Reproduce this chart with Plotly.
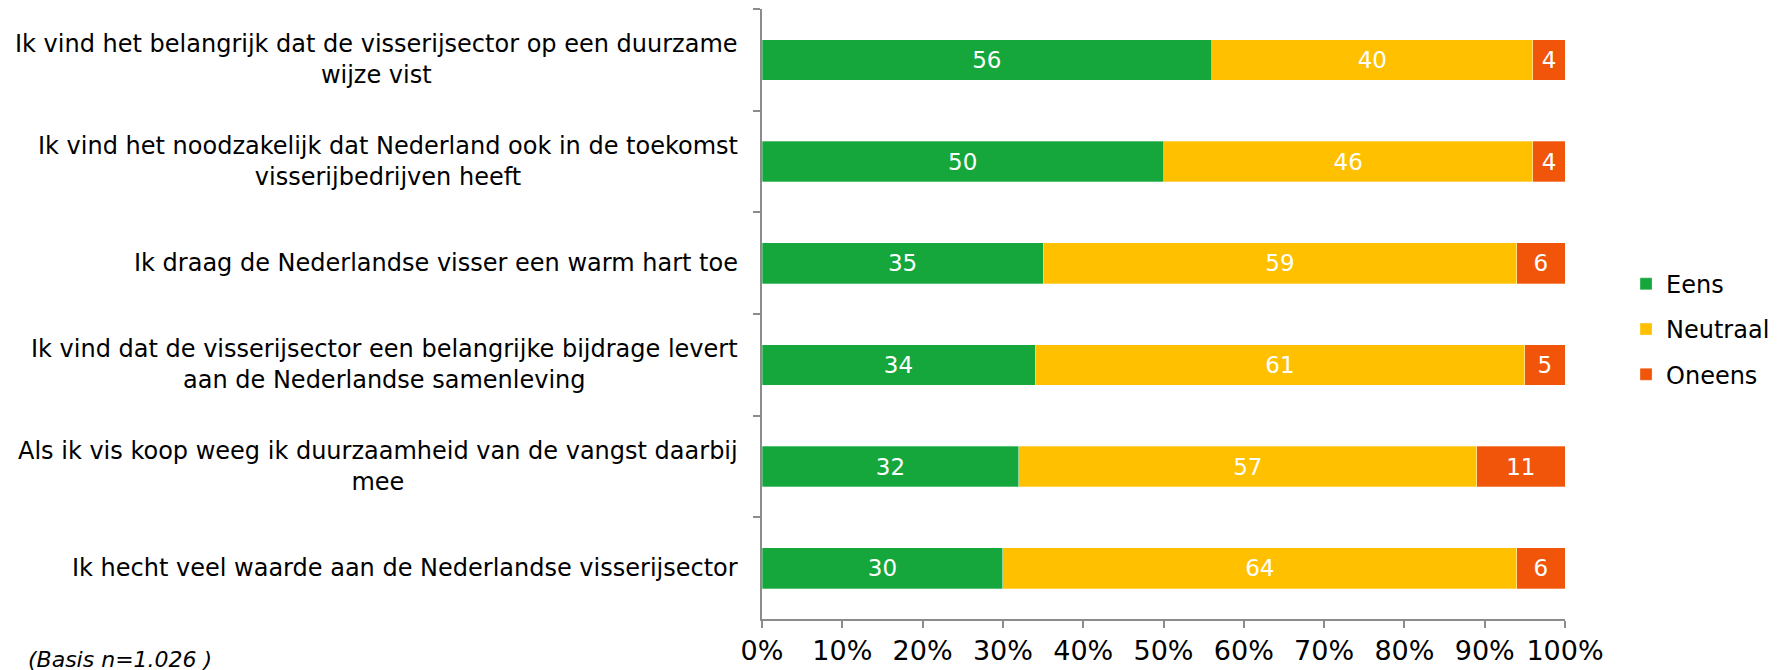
import plotly.graph_objects as go

categories = [
    "Ik vind het belangrijk dat de visserijsector op een duurzame<br>wijze vist",
    "Ik vind het noodzakelijk dat Nederland ook in de toekomst<br>visserijbedrijven heeft",
    "Ik draag de Nederlandse visser een warm hart toe",
    "Ik vind dat de visserijsector een belangrijke bijdrage levert<br>aan de Nederlandse samenleving",
    "Als ik vis koop weeg ik duurzaamheid van de vangst daarbij<br>mee",
    "Ik hecht veel waarde aan de Nederlandse visserijsector",
]
eens = [56, 50, 35, 34, 32, 30]
neutraal = [40, 46, 59, 61, 57, 64]
oneens = [4, 4, 6, 5, 11, 6]
series_names = ["Eens", "Neutraal", "Oneens"]
colors = ["#15A73B", "#FFC000", "#F0550A"]
tick_vals = [0, 10, 20, 30, 40, 50, 60, 70, 80, 90, 100]
tick_text = ["0%", "10%", "20%", "30%", "40%", "50%", "60%", "70%", "80%", "90%", "100%"]
note = "(Basis n=1.026 )"

FONT = "DejaVu Sans"
fig = go.Figure()
for name, vals, col in zip(series_names, [eens, neutraal, oneens], colors):
    fig.add_trace(go.Bar(
        y=categories, x=vals, name=name, orientation="h",
        marker=dict(color=col, line=dict(color="rgba(255,255,255,0.6)", width=0.5)),
        text=[str(v) for v in vals], textposition="inside", insidetextanchor="middle",
        textfont=dict(color="white", size=23, family=FONT),
        legendgroup=name, cliponaxis=False,
    ))

for c in categories:
    fig.add_annotation(x=0, xref="paper", xanchor="right", xshift=-22,
                       y=c, yref="y", text=c, showarrow=False, align="center",
                       font=dict(size=24, family=FONT, color="black"))

fig.add_annotation(x=-0.9165, xref="paper", xanchor="left", y=-0.0656, yref="paper",
                   yanchor="middle", text="<i>" + note + "</i>", showarrow=False,
                   font=dict(size=22, family=FONT, color="black"))

fig.update_layout(
    barmode="stack", bargap=0.6,
    width=1773, height=670,
    margin=dict(l=754, r=216, t=1, b=59, autoexpand=False),
    plot_bgcolor="white", paper_bgcolor="white",
    font=dict(family=FONT, size=24, color="black"),
    legend=dict(x=1.076, y=0.475, xanchor="left", yanchor="middle",
                traceorder="grouped", tracegroupgap=11,
                font=dict(size=24, family=FONT)),
    uniformtext=dict(mode=False),
)
fig.update_xaxes(range=[0, 100], tickvals=tick_vals, ticktext=tick_text,
                 showline=True, linecolor="#8c8c8c", linewidth=2,
                 ticks="outside", ticklen=7, tickcolor="#8c8c8c", tickwidth=2,
                 showgrid=False, zeroline=False, tickfont=dict(size=27, family=FONT))
fig.update_yaxes(autorange="reversed", showticklabels=False,
                 showline=True, linecolor="#8c8c8c", linewidth=2,
                 ticks="outside", tickson="boundaries", ticklen=7, tickcolor="#8c8c8c", tickwidth=2,
                 showgrid=False, zeroline=False)

fig.write_html("out.html")
